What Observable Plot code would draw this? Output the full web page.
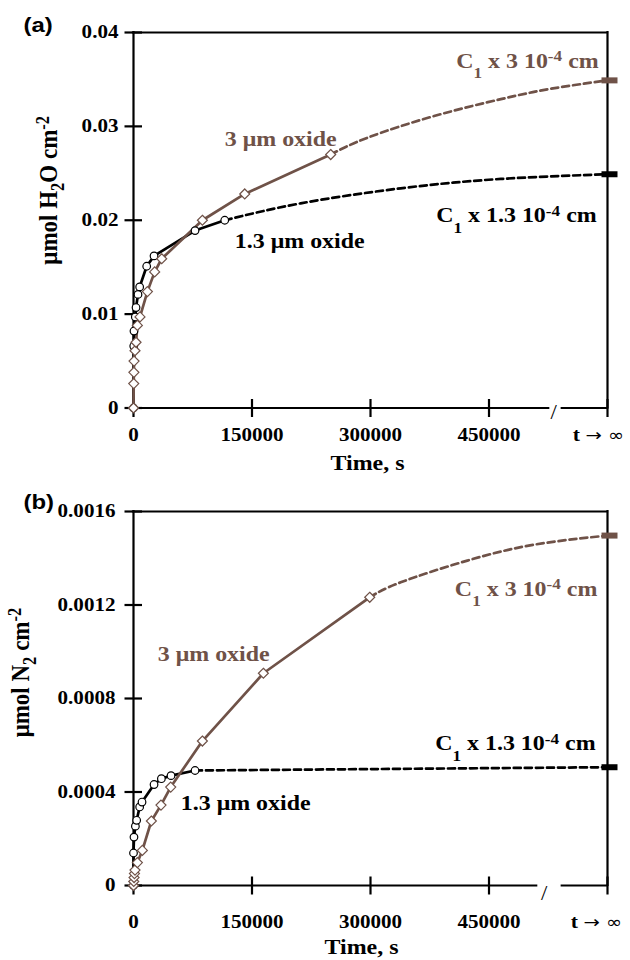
<!DOCTYPE html>
<html><head><meta charset="utf-8">
<script src="https://cdn.jsdelivr.net/npm/d3@7"></script>
<script src="https://cdn.jsdelivr.net/npm/@observablehq/plot@0.6"></script>
<style>
html,body{margin:0;padding:0;background:#fff;}
#chart{width:630px;height:960px;}
#chart svg{display:block;}
</style></head><body><div id="chart"></div>
<script>
// ---------- shared x axis ----------
const xTicks = [0, 150000, 300000, 450000, 600000];
const xTickLabels = ["0", "150000", "300000", "450000", "t \u2192 \u221E"];

// ---------- panel (a): H2O ----------
const aTicks = [0, 0.01, 0.02, 0.03, 0.04];
const aTickLabels = ["0", "0.01", "0.02", "0.03", "0.04"];
const aThinTime  = [0, 300, 600, 2300, 3200, 5700, 7800, 16700, 26000, 77900, 115500];
const aThinValue = [0, 0.0066, 0.0082, 0.0097, 0.0107, 0.0121, 0.0129, 0.0151, 0.0162, 0.0189, 0.0200];
const aThickTime  = [0, 300, 500, 700, 1900, 3200, 4900, 8200, 17600, 26800, 35700, 87200, 140800, 249600];
const aThickValue = [0, 0.0026, 0.0038, 0.0050, 0.0061, 0.0070, 0.0088, 0.0097, 0.0124, 0.0145, 0.0159, 0.0200, 0.0228, 0.0270];
const aThinExtTime  = [115500, 211600, 338200, 465000, 600000];
const aThinExtValue = [0.0200, 0.0218, 0.0234, 0.0244, 0.0249];
const aThickExtTime  = [249600, 296400, 380500, 465000, 528000, 600000];
const aThickExtValue = [0.0270, 0.0288, 0.0311, 0.0329, 0.0340, 0.0349];
const aLimitThick = [0.0349];
const aLimitThin = [0.0249];

// ---------- panel (b): N2 ----------
const bTicks = [0, 0.0004, 0.0008, 0.0012, 0.0016];
const bTickLabels = ["0", "0.0004", "0.0008", "0.0012", "0.0016"];
const bThinTime  = [0, 0, 600, 2400, 4000, 7800, 10800, 26000, 35300, 47500, 77900];
const bThinValue = [0, 0.000139, 0.000207, 0.000254, 0.000279, 0.000336, 0.000357, 0.000432, 0.000457, 0.000470, 0.000492];
const bThickTime  = [0, 300, 700, 1200, 1900, 4900, 11200, 22600, 34800, 47100, 87200, 164400, 299000];
const bThickValue = [0, 0.000017, 0.000034, 0.000051, 0.000066, 0.000098, 0.000150, 0.000276, 0.000344, 0.000421, 0.000618, 0.000908, 0.001233];
const bThinExtTime  = [77900, 300000, 600000];
const bThinExtValue = [0.000492, 0.000498, 0.000506];
const bThickExtTime  = [299000, 338200, 422600, 507000, 600000];
const bThickExtValue = [0.001233, 0.001297, 0.001390, 0.001458, 0.001497];
const bLimitThick = [0.001497];
const bLimitThin = [0.000506];

// ---------- styles ----------
const BROWN = "#6f5248";
const SERIF = "'Liberation Serif', 'Times New Roman', serif";
const SANS = "'Liberation Sans', Arial, sans-serif";

const RICH = {
  "C1 x 3 10-4 cm": [["C"], ["1", "subL"], [" x 3 10"], ["-4", "sup"], [" cm"]],
  "C1 x 1.3 10-4 cm": [["C"], ["1", "subL"], [" x 1.3 10"], ["-4", "sup"], [" cm"]],
  "\u03BCmol H2O cm-2": [["\u03BCmol H"], ["2", "sub"], ["O cm"], ["-2", "sup"]],
  "\u03BCmol N2 cm-2": [["\u03BCmol N"], ["2", "sub"], [" cm"], ["-2", "sup"]],
  "t \u2192 \u221E": [["t "], ["\u2192", "sym"], [" \u221E", "sym"]]
};

const yTickSym = {draw(ctx) { ctx.moveTo(-9, 0); ctx.lineTo(8.5, 0); }};
const xTickSym = {draw(ctx) { ctx.moveTo(0, -9); ctx.lineTo(0, 9); }};
const limitSym = {draw(ctx) { ctx.rect(-6, -3, 16, 6); }};

const ser = (T, V) => T.map((t, i) => ({t, v: V[i]}));
const last = xTicks.length - 1;

function panel(o) {
  const ymax = o.yTicks[o.yTicks.length - 1];
  const ax = {stroke: "black", strokeWidth: 2.2, strokeLinecap: "square"};
  return Plot.plot({
    width: 630, height: 480,
    marginLeft: 133, marginRight: 23, marginTop: o.mt, marginBottom: o.mb,
    x: {domain: [0, 600000], axis: null},
    y: {domain: [0, ymax], axis: null},
    style: {background: "white", overflow: "visible", fontFamily: SERIF, fontWeight: "bold", color: "black"},
    marks: [
      // frame / axes
      Plot.ruleX([0], ax),
      Plot.ruleX([600000], ax),
      Plot.ruleY([ymax], ax),
      Plot.ruleY([0], {x1: 0, x2: o.brk[0], ...ax}),
      Plot.ruleY([0], {x1: o.brk[1], x2: 600000, ...ax}),
      Plot.text(["/"], {text: d => d, x: o.slashX, y: 0, dy: o.slashDy, fontSize: 20, fontWeight: "normal", lineAnchor: "middle"}),
      Plot.dot(o.yTicks, {x: 0, y: d => d, symbol: yTickSym, fill: "none", stroke: "black", strokeWidth: 2.2}),
      Plot.dot(xTicks, {x: d => d, y: 0, symbol: xTickSym, fill: "none", stroke: "black", strokeWidth: 2.2}),
      Plot.text(o.yTicks, {x: 0, y: d => d, text: (d, i) => o.yLabels[i], textAnchor: "end", lineAnchor: "middle", dx: o.yLabDx, fontSize: 18.5}),
      Plot.text(xTicks, {filter: (d, i) => i < last, x: d => d, y: 0, text: (d, i) => xTickLabels[i], lineAnchor: "bottom", dy: o.xLabDy, fontSize: 18.5}),
      Plot.text(xTicks, {filter: (d, i) => i === last, x: d => d, y: 0, text: (d, i) => xTickLabels[i], lineAnchor: "bottom", dy: o.xLabDy, dx: o.infDx, fontSize: 19}),
      Plot.text(["Time, s"], {text: d => d, frameAnchor: "bottom", textAnchor: "middle", dx: o.titleDx, dy: o.titleDy, lineAnchor: "bottom", fontSize: 21}),
      Plot.text([o.yTitle], {text: d => d, frameAnchor: "left", textAnchor: "middle", rotate: -90, dx: o.yTitleDx, dy: o.yTitleDy, lineAnchor: "bottom", fontSize: 23}),
      Plot.text([o.tag], {text: d => d, frameAnchor: "top-left", dx: -110, dy: o.tagDy, textAnchor: "start", lineAnchor: "bottom", fontFamily: SANS, fontSize: 21, fontWeight: "bold"}),
      // extrapolations
      Plot.line(ser(o.thinExtT, o.thinExtV), {x: "t", y: "v", stroke: "black", strokeWidth: 2.7, strokeDasharray: "7,4", curve: "natural"}),
      Plot.line(ser(o.thickExtT, o.thickExtV), {x: "t", y: "v", stroke: BROWN, strokeWidth: 2.7, strokeDasharray: "7,4", curve: "natural"}),
      // measured
      Plot.line(ser(o.thinT, o.thinV), {x: "t", y: "v", stroke: "black", strokeWidth: 2.7}),
      Plot.line(ser(o.thickT, o.thickV), {x: "t", y: "v", stroke: BROWN, strokeWidth: 2.7}),
      Plot.dot(ser(o.thinT, o.thinV), {x: "t", y: "v", r: 3.8, fill: "white", stroke: "black", strokeWidth: 1.2}),
      Plot.dot(ser(o.thickT, o.thickV), {x: "t", y: "v", symbol: "diamond2", r: 4.5, fill: "white", stroke: BROWN, strokeWidth: 1.2}),
      // limits at t -> infinity
      Plot.dot(o.limThick, {x: 600000, y: d => d, symbol: limitSym, fill: BROWN, stroke: "none"}),
      Plot.dot(o.limThin, {x: 600000, y: d => d, symbol: limitSym, fill: "black", stroke: "none"}),
      // annotations
      ...o.notes
    ]
  });
}

const noteOpts = {fontSize: 21, lineAnchor: "bottom"};

const chartA = panel({
  mt: 32, mb: 72.5, yTicks: aTicks, yLabels: aTickLabels, yLabDx: -15, xLabDy: 33, infDx: -9,
  brk: [525600, 542700], slashX: 532000, slashDy: 5,
  titleDx: -3, titleDy: 62, yTitle: "\u03BCmol H2O cm-2", yTitleDx: -77, yTitleDy: -30,
  tag: "(a)", tagDy: -1,
  thinT: aThinTime, thinV: aThinValue, thickT: aThickTime, thickV: aThickValue,
  thinExtT: aThinExtTime, thinExtV: aThinExtValue, thickExtT: aThickExtTime, thickExtV: aThickExtValue,
  limThick: aLimitThick, limThin: aLimitThin,
  notes: [
    Plot.text(["3 \u03BCm oxide"], {text: d => d, x: 186300, y: 0.0279, fill: BROWN, ...noteOpts}),
    Plot.text(["1.3 \u03BCm oxide"], {text: d => d, x: 210400, y: 0.0170, fill: "black", ...noteOpts}),
    Plot.text(["C1 x 3 10-4 cm"], {text: d => d, x: 588900, y: 0.03626, fill: BROWN, textAnchor: "end", ...noteOpts}),
    Plot.text(["C1 x 1.3 10-4 cm"], {text: d => d, x: 586300, y: 0.01977, fill: "black", textAnchor: "end", ...noteOpts})
  ]
});

const chartB = panel({
  mt: 31, mb: 75, yTicks: bTicks, yLabels: bTickLabels, yLabDx: -18, xLabDy: 42.5, infDx: -11,
  brk: [510400, 542700], slashX: 519900, slashDy: 8,
  titleDx: -9, titleDy: 68, yTitle: "\u03BCmol N2 cm-2", yTitleDx: -105, yTitleDy: -26,
  tag: "(b)", tagDy: -3,
  thinT: bThinTime, thinV: bThinValue, thickT: bThickTime, thickV: bThickValue,
  thinExtT: bThinExtTime, thinExtV: bThinExtValue, thickExtT: bThickExtTime, thickExtV: bThickExtValue,
  limThick: bLimitThick, limThin: bLimitThin,
  notes: [
    Plot.text(["3 \u03BCm oxide"], {text: d => d, x: 101500, y: 0.000962, fill: BROWN, ...noteOpts}),
    Plot.text(["1.3 \u03BCm oxide"], {text: d => d, x: 142000, y: 0.000321, fill: "black", ...noteOpts}),
    Plot.text(["C1 x 3 10-4 cm"], {text: d => d, x: 587200, y: 0.00124, fill: BROWN, textAnchor: "end", ...noteOpts}),
    Plot.text(["C1 x 1.3 10-4 cm"], {text: d => d, x: 585000, y: 0.000578, fill: "black", textAnchor: "end", ...noteOpts})
  ]
});

const root = document.getElementById("chart");
root.appendChild(chartA);
root.appendChild(chartB);

// sub/superscripts and symbols as tspans
const SVGNS = "http://www.w3.org/2000/svg";
function richify(el) {
  for (const t of el.querySelectorAll("text")) {
    const segs = RICH[t.textContent];
    if (!segs) continue;
    const fs = parseFloat(getComputedStyle(t).fontSize) || 20;
    t.textContent = "";
    let shift = 0;
    for (const [s, kind] of segs) {
      const ts = document.createElementNS(SVGNS, "tspan");
      ts.textContent = s;
      const target = kind === "subL" ? fs * 0.5 : kind === "sub" ? fs * 0.3 : kind === "sup" ? -fs * 0.3 : 0;
      if (target !== shift) { ts.setAttribute("dy", target - shift); shift = target; }
      if (kind === "sym") {
        ts.setAttribute("font-family", "'DejaVu Sans', sans-serif");
        ts.setAttribute("font-weight", "normal");
        ts.setAttribute("font-size", (fs * 0.9).toFixed(1));
      } else if (kind) ts.setAttribute("font-size", (fs * 0.72).toFixed(1));
      t.appendChild(ts);
    }
  }
}
// horizontal stretch of text (the original figure was widened horizontally)
function stretch(el, k) {
  for (const t of el.querySelectorAll("text")) {
    const tr = t.getAttribute("transform") || "";
    if (tr.includes("rotate")) { t.setAttribute("transform", `${tr} scale(1,${k})`); continue; }
    const x = parseFloat(t.getAttribute("x")) || 0;
    t.setAttribute("transform", `${tr} translate(${x},0) scale(${k},1) translate(${-x},0)`);
  }
}
for (const c of [chartA, chartB]) { richify(c); stretch(c, 1.14); }
</script></body></html>
